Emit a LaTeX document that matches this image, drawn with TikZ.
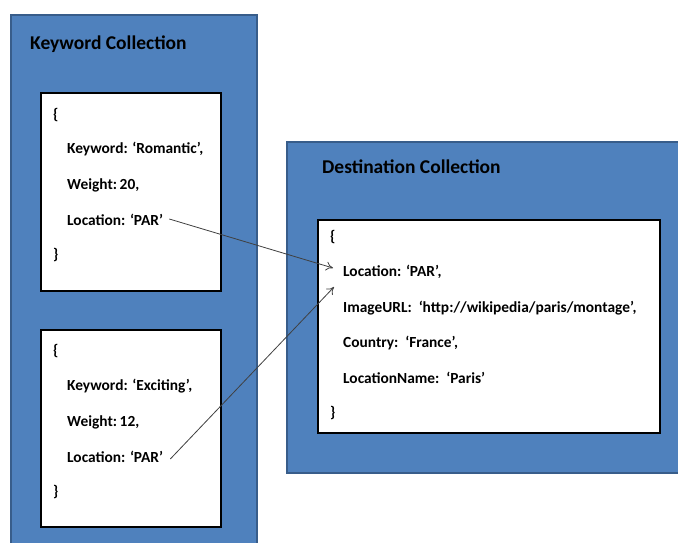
\documentclass[tikz,border=0pt]{standalone}
\usepackage{fontspec}
\setmainfont{Carlito}
\usetikzlibrary{arrows.meta}
\definecolor{collblue}{HTML}{4F81BD}
\definecolor{collborder}{HTML}{385D8A}
\begin{document}
\begin{tikzpicture}[x=1pt,y=-1pt,
  coll/.style={fill=collblue,draw=collborder,line width=1.5pt},
  doc/.style={fill=white,draw=black,line width=2.6pt},
  title/.style={anchor=west,inner sep=0pt,font=\bfseries\fontsize{19.5}{23}\selectfont},
  field/.style={anchor=west,inner sep=0pt,font=\bfseries\fontsize{15.4}{18}\selectfont},
  link/.style={draw=black!75,line width=0.8pt,-{To[length=7pt,width=9pt]}}]
\useasboundingbox (0,0) rectangle (678,543);
\clip (0,0) rectangle (678,543);
% collections
\draw[coll] (11,15) rectangle (257,560);
\draw[coll] (287,142) rectangle (690,473);
\node[title] (kt) at (30,44) {Keyword Collection};
\node[title] (dt) at (322,167) {Destination Collection};
% keyword doc 1
\draw[doc] (41,93) rectangle (221,291);
\node[field] (k1o) at (53,115) {\{};
\node[field] (k1k) at (67,149) {Keyword: ‘Romantic’,};
\node[field] (k1w) at (67,185) {Weight:\,20,};
\node[field] (k1l) at (67,220) {Location: ‘PAR’};
\node[field] (k1c) at (53,255) {\}};
% keyword doc 2
\draw[doc] (41,330) rectangle (221,527);
\node[field] (k2o) at (53,351) {\{};
\node[field] (k2k) at (67,386) {Keyword: ‘Exciting’,};
\node[field] (k2w) at (67,422) {Weight:\,12,};
\node[field] (k2l) at (67,457) {Location: ‘PAR’};
\node[field] (k2c) at (53,492) {\}};
% destination doc
\draw[doc] (318,220) rectangle (660,433);
\node[field] (do) at (330,237) {\{};
\node[field] (dl) at (343,272) {Location: ‘PAR’,};
\node[field] (du) at (343,308) {ImageURL:\ \ ‘http://wikipedia/paris/montage’,};
\node[field] (dc) at (343,343) {Country:\ \ ‘France’,};
\node[field] (dn) at (343,378) {LocationName:\ \ ‘Paris’};
\node[field] (dcl) at (330,413) {\}};
% links
\coordinate (e1) at (333,268);
\coordinate (e2) at (334,287);
\draw[link] ([xshift=6pt,yshift=1pt]k1l.east) -- (e1);
\draw[link] ([xshift=7pt,yshift=-2pt]k2l.east) -- (e2);
\end{tikzpicture}
\end{document}
